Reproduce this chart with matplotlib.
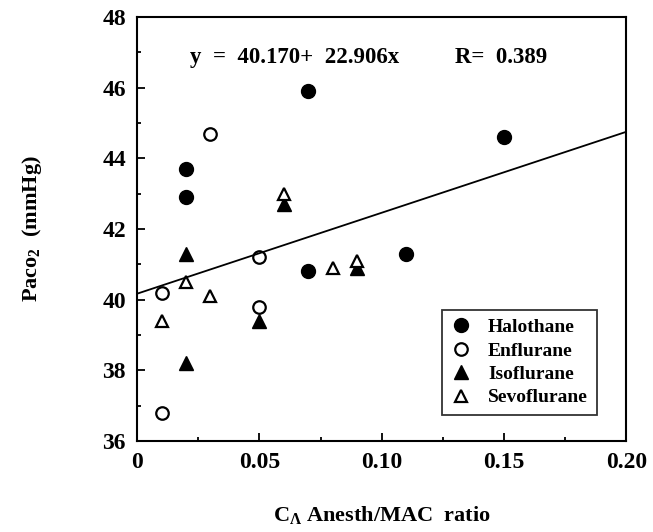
import numpy as np
import matplotlib.pyplot as plt

# donnees
halo_x = [0.02, 0.02, 0.07, 0.07, 0.11, 0.15]
halo_y = [43.7, 42.9, 45.9, 40.8, 41.3, 44.6]
enf_x = [0.01, 0.01, 0.03, 0.05, 0.05]
enf_y = [40.2, 36.8, 44.7, 41.2, 39.8]
iso_x = [0.02, 0.02, 0.05, 0.06, 0.09]
iso_y = [41.3, 38.2, 39.4, 42.7, 40.9]
sevo_x = [0.01, 0.02, 0.03, 0.06, 0.08, 0.09]
sevo_y = [39.4, 40.5, 40.1, 43.0, 40.9, 41.1]

intercept = 40.170
slope = 22.906
r_value = 0.389

xticks = [0, 0.05, 0.10, 0.15, 0.20]
xtick_labels = ['0', '0.05', '0.10', '0.15', '0.20']
yticks = [36, 38, 40, 42, 44, 46, 48]

plt.rcParams['font.family'] = ['Liberation Serif', 'DejaVu Serif']
plt.rcParams['font.weight'] = 'bold'
plt.rcParams['mathtext.fontset'] = 'custom'
plt.rcParams['mathtext.rm'] = 'Liberation Serif:bold'
plt.rcParams['mathtext.it'] = 'Liberation Serif:bold'

fig = plt.figure(figsize=(6.53, 5.32), dpi=100)
ax = fig.add_axes([0.21, 0.171, 0.749, 0.797])

ms = 10
ax.plot(halo_x, halo_y, 'o', color='black', ms=ms, label='Halothane')
ax.plot(enf_x, enf_y, 'o', mfc='white', mec='black', mew=1.6, ms=ms - 1, label='Enflurane')
ax.plot(iso_x, iso_y, '^', color='black', ms=ms, label='Isoflurane')
ax.plot(sevo_x, sevo_y, '^', mfc='white', mec='black', mew=1.6, ms=ms - 1, label='Sevoflurane')

# droite de regression
lx = np.array([0, 0.2])
ax.plot(lx, intercept + slope * lx, color='black', lw=1.3)

ax.text(0.0215, 46.85, 'y  =  %.3f+  %.3fx' % (intercept, slope),
        fontsize=16.5, fontweight='bold', va='center')
ax.text(0.130, 46.85, 'R=  %.3f' % r_value,
        fontsize=16.5, fontweight='bold', va='center')

ax.set_xlim(0, 0.2)
ax.set_ylim(36, 48)
ax.set_xticks(xticks)
ax.set_xticklabels(xtick_labels)
ax.set_yticks(yticks)
ax.set_xticks(np.arange(0, 0.2001, 0.025), minor=True)
ax.set_yticks(np.arange(36, 48.01, 1), minor=True)
ax.tick_params(which='both', direction='in', labelsize=17, width=1.3)
ax.tick_params(which='major', length=6, pad=8)
ax.tick_params(which='minor', length=3)
for s in ax.spines.values():
    s.set_linewidth(1.5)

ax.set_ylabel('Paco$_2$  (mmHg)', fontsize=16, fontweight='bold', labelpad=42)
ax.set_xlabel('C$_{\\Lambda}$ Anesth/MAC  ratio', fontsize=16, fontweight='bold', labelpad=22)

leg = ax.legend(loc='lower left', bbox_to_anchor=(0.624, 0.061), fontsize=14,
                frameon=True, fancybox=False, edgecolor='black', handletextpad=0.9,
                borderpad=0.45, labelspacing=0.3, handlelength=1.0, borderaxespad=0)
leg.get_frame().set_linewidth(1.3)

fig.savefig('out.png', dpi=100)
